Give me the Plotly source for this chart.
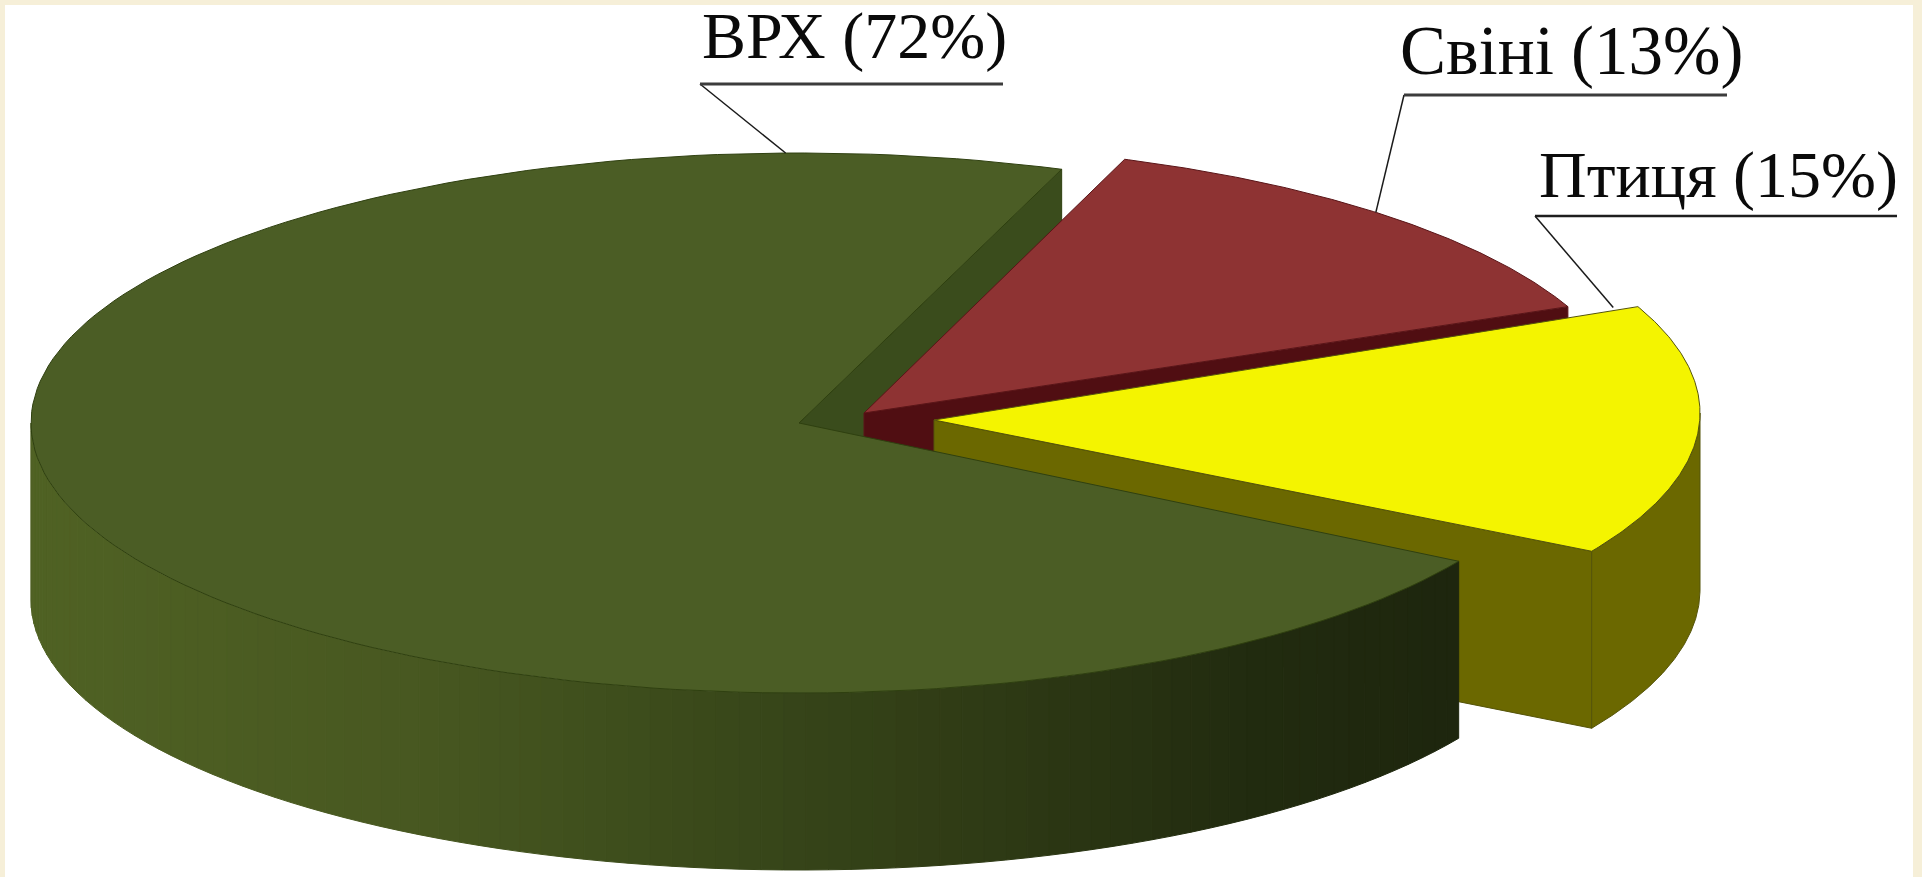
import numpy as np
import plotly.graph_objects as go

# --- data ---
categories = ["ВРХ", "Свіні", "Птиця"]
shares = [72, 13, 15]

# --- styling / geometry (pixels of the 1922x877 canvas) ---
W, H = 1922, 877
CX, CY, RX, RY = 799, 423, 768, 270
DEPTH = 177
START = 70.0  # where the Свіні slice starts, parameter degrees
APEX = {"ВРХ": (0, 0), "Свіні": (65, -10), "Птиця": (135, -3)}
ARC_CENTRE = {"ВРХ": (0, 0), "Свіні": (63, -10), "Птиця": (133, -10)}
TOPS = {"ВРХ": "#4b5d25", "Свіні": "#8e3333", "Птиця": "#f4f400"}
FACES = {"ВРХ": "#3a4c1c", "Свіні": "#500e12", "Птиця": "#6b6800"}
EDGES = {"ВРХ": "#2f4010", "Свіні": "#5a1518", "Птиця": "#55540a"}
WALL_STOPS = [(31, (80, 98, 36)), (420, (72, 88, 33)), (700, (59, 74, 27)),
              (1000, (46, 58, 21)), (1250, (34, 44, 16)), (1459, (30, 38, 14))]
BORDER = "#f6efd8"
# underline start, underline end, underline y, underline width, underline colour
UNDERLINE = {"ВРХ": (700, 1003, 84, 3.0, "#3c3c3c"),
             "Свіні": (1404, 1727, 95, 3.0, "#3c3c3c"),
             "Птиця": (1535, 1897, 216, 2.4, "#1e1e1e")}
TEXT_X = {"ВРХ": 700, "Свіні": 1398, "Птиця": 1537}
TEXT_BOTTOM = {"ВРХ": 75, "Свіні": 91, "Птиця": 214}
FONT = {"ВРХ": 66, "Свіні": 69, "Птиця": 66}

# slice angle ranges, clockwise from START, derived from the values
total = sum(shares)
spans = {c: v / total * 360 for c, v in zip(categories, shares)}
a_sw = START - spans["Свіні"]
a_pt = a_sw - spans["Птиця"]
RANGES = {"Свіні": (START, a_sw), "Птиця": (a_sw, a_pt), "ВРХ": (a_pt, a_pt - spans["ВРХ"])}


def pt(cat, deg, drop=0):
    ox, oy = ARC_CENTRE[cat]
    t = np.radians(deg)
    return CX + ox + RX * np.cos(t), CY + oy - RY * np.sin(t) + drop


def apex(cat):
    return CX + APEX[cat][0], CY + APEX[cat][1]


def arc(cat, a, b, drop=0, n=160):
    return pt(cat, np.linspace(a, b, n), drop)


fig = go.Figure()


def poly(x, y, fill, edge=None, width=1.0):
    fig.add_trace(go.Scatter(
        x=list(x), y=list(y), mode="lines", fill="toself", fillcolor=fill,
        line=dict(color=edge or fill, width=width), hoverinfo="skip", showlegend=False))


def top_face(cat):
    a, b = RANGES[cat]
    x, y = arc(cat, a, b)
    ax, ay = apex(cat)
    poly(np.r_[ax, x, ax], np.r_[ay, y, ay], TOPS[cat], EDGES[cat], 1.0)


def cut_face(cat, deg):
    ax, ay = apex(cat)
    ox, oy = pt(cat, deg)
    poly([ax, ox, ox, ax, ax], [ay, oy, oy + DEPTH, ay + DEPTH, ay], FACES[cat], EDGES[cat], 1.0)


# green cut face at the Свіні side (behind everything else)
cut_face("ВРХ", START)

# Свіні
cut_face("Свіні", a_sw)
top_face("Свіні")

# Птиця: cut face, outer wall, top
cut_face("Птиця", a_pt)
wx, wy = arc("Птиця", 0, a_pt)
wxb, wyb = arc("Птиця", 0, a_pt, DEPTH)
poly(np.r_[wx, wxb[::-1], wx[0]], np.r_[wy, wyb[::-1], wy[0]], FACES["Птиця"], EDGES["Птиця"], 1.0)
top_face("Птиця")

# ВРХ: outer wall with a left-to-right shading, then top
x_stops = [s[0] for s in WALL_STOPS]
segments = np.linspace(-180, a_pt, 90)
for s0, s1 in zip(segments[:-1], segments[1:]):
    xs, ys = arc("ВРХ", s0, s1, 0, 4)
    xb, yb = arc("ВРХ", s0, s1, DEPTH, 4)
    xm = (xs[0] + xs[-1]) / 2
    rgb = [int(np.interp(xm, x_stops, [s[1][i] for s in WALL_STOPS])) for i in range(3)]
    c = f"rgb({rgb[0]},{rgb[1]},{rgb[2]})"
    poly(np.r_[xs, xb[::-1], xs[0]], np.r_[ys, yb[::-1], ys[0]], c, c, 1.0)
top_face("ВРХ")

# leader line ends, taken from each slice's own outline
leader_end = {
    "ВРХ": pt("ВРХ", 91.0),
    "Свіні": pt("Свіні", START - spans["Свіні"] * 0.47),
}
_ax, _ay = apex("Птиця")
_ox, _oy = pt("Птиця", a_sw)
leader_end["Птиця"] = (_ax + (_ox - _ax) * 0.965, _ay + (_oy - _ay) * 0.965 - 3)

annotations = []
for c, v in zip(categories, shares):
    x0, x1, yu, uw, uc = UNDERLINE[c]
    lx, ly = leader_end[c]
    fig.add_trace(go.Scatter(x=[lx, x0], y=[ly, yu], mode="lines",
                             line=dict(color="#1a1a1a", width=1.5),
                             hoverinfo="skip", showlegend=False))
    fig.add_trace(go.Scatter(x=[x0, x1], y=[yu, yu], mode="lines",
                             line=dict(color=uc, width=uw),
                             hoverinfo="skip", showlegend=False))
    annotations.append(dict(
        x=TEXT_X[c], y=TEXT_BOTTOM[c], xref="x", yref="y", xanchor="left", yanchor="bottom",
        text=f"{c} ({v}%)", showarrow=False,
        font=dict(family="Liberation Serif", size=FONT[c], color="#0a0a0a")))

fig.update_layout(
    width=W, height=H, margin=dict(l=5, r=9, t=5, b=0, pad=0),
    paper_bgcolor=BORDER, plot_bgcolor="#ffffff", showlegend=False,
    xaxis=dict(range=[5, 1913], visible=False, fixedrange=True),
    yaxis=dict(range=[877, 5], visible=False, fixedrange=True),
    annotations=annotations,
)

fig.write_html("out.html", config={"displayModeBar": False},
               post_script="document.body.style.margin='0';document.documentElement.style.overflow='hidden';")
